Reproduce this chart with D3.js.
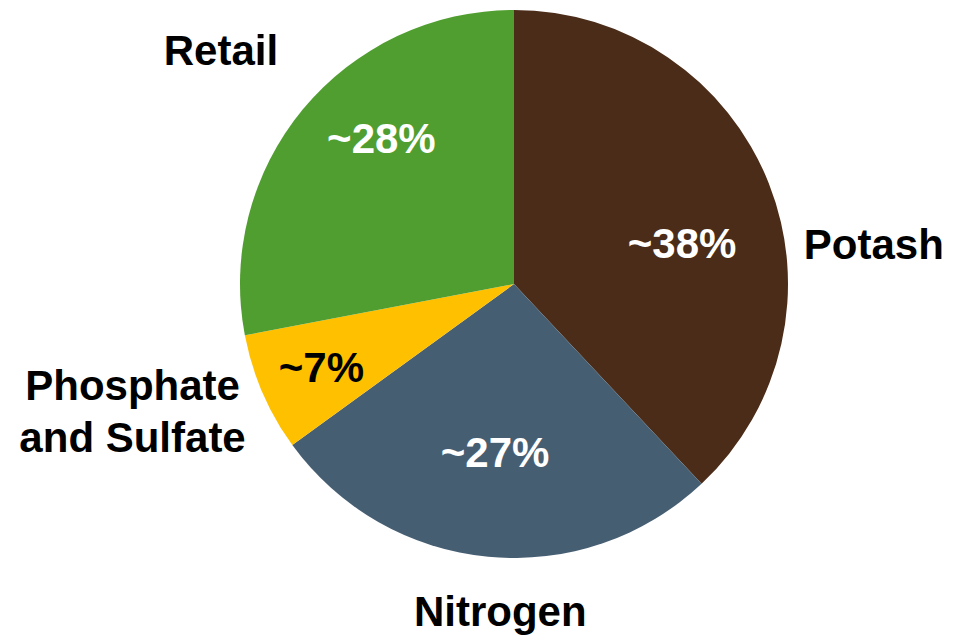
<!DOCTYPE html>
<html>
<head>
<meta charset="utf-8">
<script src="https://cdn.jsdelivr.net/npm/d3@7"></script>
<style>
html,body{margin:0;padding:0;background:#fff;}
svg{display:block;}
text{font-family:"Liberation Sans",Arial,sans-serif;font-weight:bold;}
</style>
</head>
<body>
<svg id="chart" width="961" height="641"></svg>
<script>
// Data
const categories = ["Potash", "Nitrogen", "Phosphate and Sulfate", "Retail"];
const values = [38, 27, 7, 28];
const valueLabels = ["~38%", "~27%", "~7%", "~28%"];
const colors = ["#4A2C18", "#465E72", "#FFC000", "#509E2F"];
const valueLabelColors = ["#ffffff", "#ffffff", "#000000", "#ffffff"];

// Layout (label placement in polar terms: radius in px from centre, angle in degrees clockwise from 12 o'clock)
const cx = 514, cy = 284, R = 274;
const valuePlacement = [[173, 76.3], [170, 186.4], [210, 246.5], [197, 317.7]];
const namePlacement = [[362, 83.7], [328, 182.4], [402, 251.6], [375, 308.6]];
const fontSize = 42;

const svg = d3.select("#chart");
const g = svg.append("g").attr("transform", `translate(${cx},${cy})`);

const pie = d3.pie().sort(null).value(d => d.v);
const data = categories.map((c, i) => ({c, v: values[i], i}));
const arcs = pie(data);
const arc = d3.arc().innerRadius(0).outerRadius(R);

g.selectAll("path").data(arcs).enter().append("path")
  .attr("d", arc)
  .attr("fill", d => colors[d.data.i]);

function polar(r, deg) {
  const a = deg * Math.PI / 180;
  return [r * Math.sin(a), -r * Math.cos(a)];
}

// value labels
g.selectAll("text.val").data(arcs).enter().append("text")
  .attr("class", "val")
  .attr("text-anchor", "middle")
  .attr("dominant-baseline", "central")
  .attr("font-size", fontSize)
  .attr("fill", d => valueLabelColors[d.data.i])
  .attr("transform", d => {
    const p = polar(...valuePlacement[d.data.i]);
    return `translate(${p[0]},${p[1]})`;
  })
  .text(d => valueLabels[d.data.i]);

// category labels
const nameSel = g.selectAll("text.name").data(arcs).enter().append("text")
  .attr("class", "name")
  .attr("text-anchor", "middle")
  .attr("font-size", fontSize)
  .attr("fill", "#000")
  .attr("transform", d => {
    const p = polar(...namePlacement[d.data.i]);
    return `translate(${p[0]},${p[1]})`;
  });

nameSel.each(function(d) {
  const t = d3.select(this);
  const name = categories[d.data.i];
  const lines = name === "Phosphate and Sulfate" ? ["Phosphate", "and Sulfate"] : [name];
  const lh = 52;
  const start = -(lines.length - 1) * lh / 2;
  lines.forEach((ln, k) => {
    t.append("tspan").attr("x", 0).attr("y", start + k * lh).attr("dy", "0.35em").text(ln);
  });
});
</script>
</body>
</html>
